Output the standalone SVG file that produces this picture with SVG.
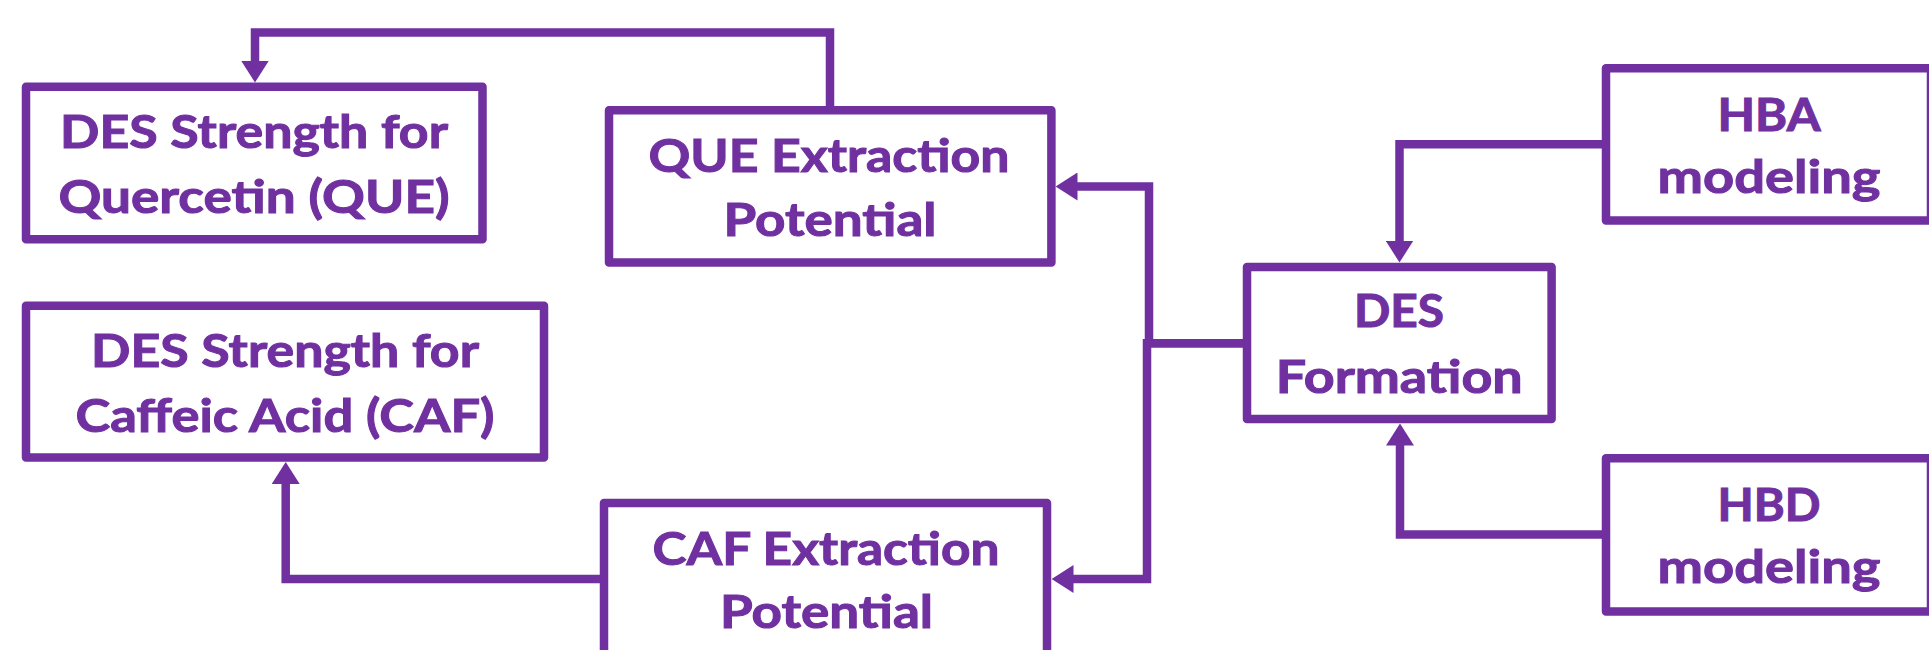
<svg xmlns="http://www.w3.org/2000/svg" width="1929" height="650" viewBox="0 0 1929 650">
<defs>
<marker id="arr" viewBox="0 0 22 28" refX="0.5" refY="14" markerWidth="22" markerHeight="28" markerUnits="userSpaceOnUse" orient="auto">
<path d="M0,0 L22,14 L0,28 Z" fill="#7030A0"/>
</marker>
<style>
.box{fill:#FFFFFF;stroke:#7030A0;stroke-width:8.5;stroke-linejoin:round}
.t{font-family:Lato,"Open Sans","Liberation Sans",sans-serif;font-weight:700;font-size:45px;fill:#7030A0;stroke:#7030A0;stroke-width:1;text-anchor:middle}
.c{fill:none;stroke:#7030A0;stroke-width:8.5;stroke-linejoin:miter}
</style>
</defs>
<rect width="1929" height="650" fill="#FFFFFF"/>
<g id="connectors">
<path class="c" d="M830,110 V32.5 H255 V61" marker-end="url(#arr)"/>
<path class="c" d="M1247,343.3 H1149 V186.5 H1077" marker-end="url(#arr)"/>
<path class="c" d="M1247,343.3 H1147 V579 H1073" marker-end="url(#arr)"/>
<path class="c" d="M604,579 H285.7 V483.5" marker-end="url(#arr)"/>
<path class="c" d="M1606,144.2 H1399.5 V241" marker-end="url(#arr)"/>
<path class="c" d="M1606,534.5 H1400 V445" marker-end="url(#arr)"/>
</g>
<g id="des-strength-que">
<rect class="box" x="26" y="86.7" width="456.5" height="152.6"/>
<text class="t" x="254" y="148.3" textLength="388" lengthAdjust="spacingAndGlyphs">DES Strength for</text>
<text class="t" x="254" y="213.3" textLength="391" lengthAdjust="spacingAndGlyphs">Quercetin (QUE)</text>
</g>
<g id="que-extraction">
<rect class="box" x="609" y="110.2" width="442.4" height="152.3"/>
<text class="t" x="829" y="171.7" textLength="361" lengthAdjust="spacingAndGlyphs">QUE Extraction</text>
<text class="t" x="830" y="236" textLength="213" lengthAdjust="spacingAndGlyphs">Potential</text>
</g>
<g id="des-strength-caf">
<rect class="box" x="26" y="305.8" width="518" height="151.7"/>
<text class="t" x="285" y="367.3" textLength="388" lengthAdjust="spacingAndGlyphs">DES Strength for</text>
<text class="t" x="285" y="431.7" textLength="419" lengthAdjust="spacingAndGlyphs">Caffeic Acid (CAF)</text>
</g>
<g id="caf-extraction">
<rect class="box" x="604" y="503" width="443" height="170"/>
<text class="t" x="826" y="565" textLength="347" lengthAdjust="spacingAndGlyphs">CAF Extraction</text>
<text class="t" x="826.5" y="628.3" textLength="213" lengthAdjust="spacingAndGlyphs">Potential</text>
</g>
<g id="des-formation">
<rect class="box" x="1247" y="267" width="304.6" height="152"/>
<text class="t" x="1399" y="327" textLength="90" lengthAdjust="spacingAndGlyphs">DES</text>
<text class="t" x="1399.2" y="393.3" textLength="247" lengthAdjust="spacingAndGlyphs">Formation</text>
</g>
<g id="hba-modeling">
<rect class="box" x="1606" y="68.3" width="325" height="152.2"/>
<text class="t" x="1769" y="130.5" textLength="103" lengthAdjust="spacingAndGlyphs">HBA</text>
<text class="t" x="1769" y="192.5" textLength="223" lengthAdjust="spacingAndGlyphs">modeling</text>
</g>
<g id="hbd-modeling">
<rect class="box" x="1606" y="458.3" width="325" height="153.2"/>
<text class="t" x="1769" y="520.5" textLength="103" lengthAdjust="spacingAndGlyphs">HBD</text>
<text class="t" x="1769" y="582.5" textLength="223" lengthAdjust="spacingAndGlyphs">modeling</text>
</g>
</svg>
